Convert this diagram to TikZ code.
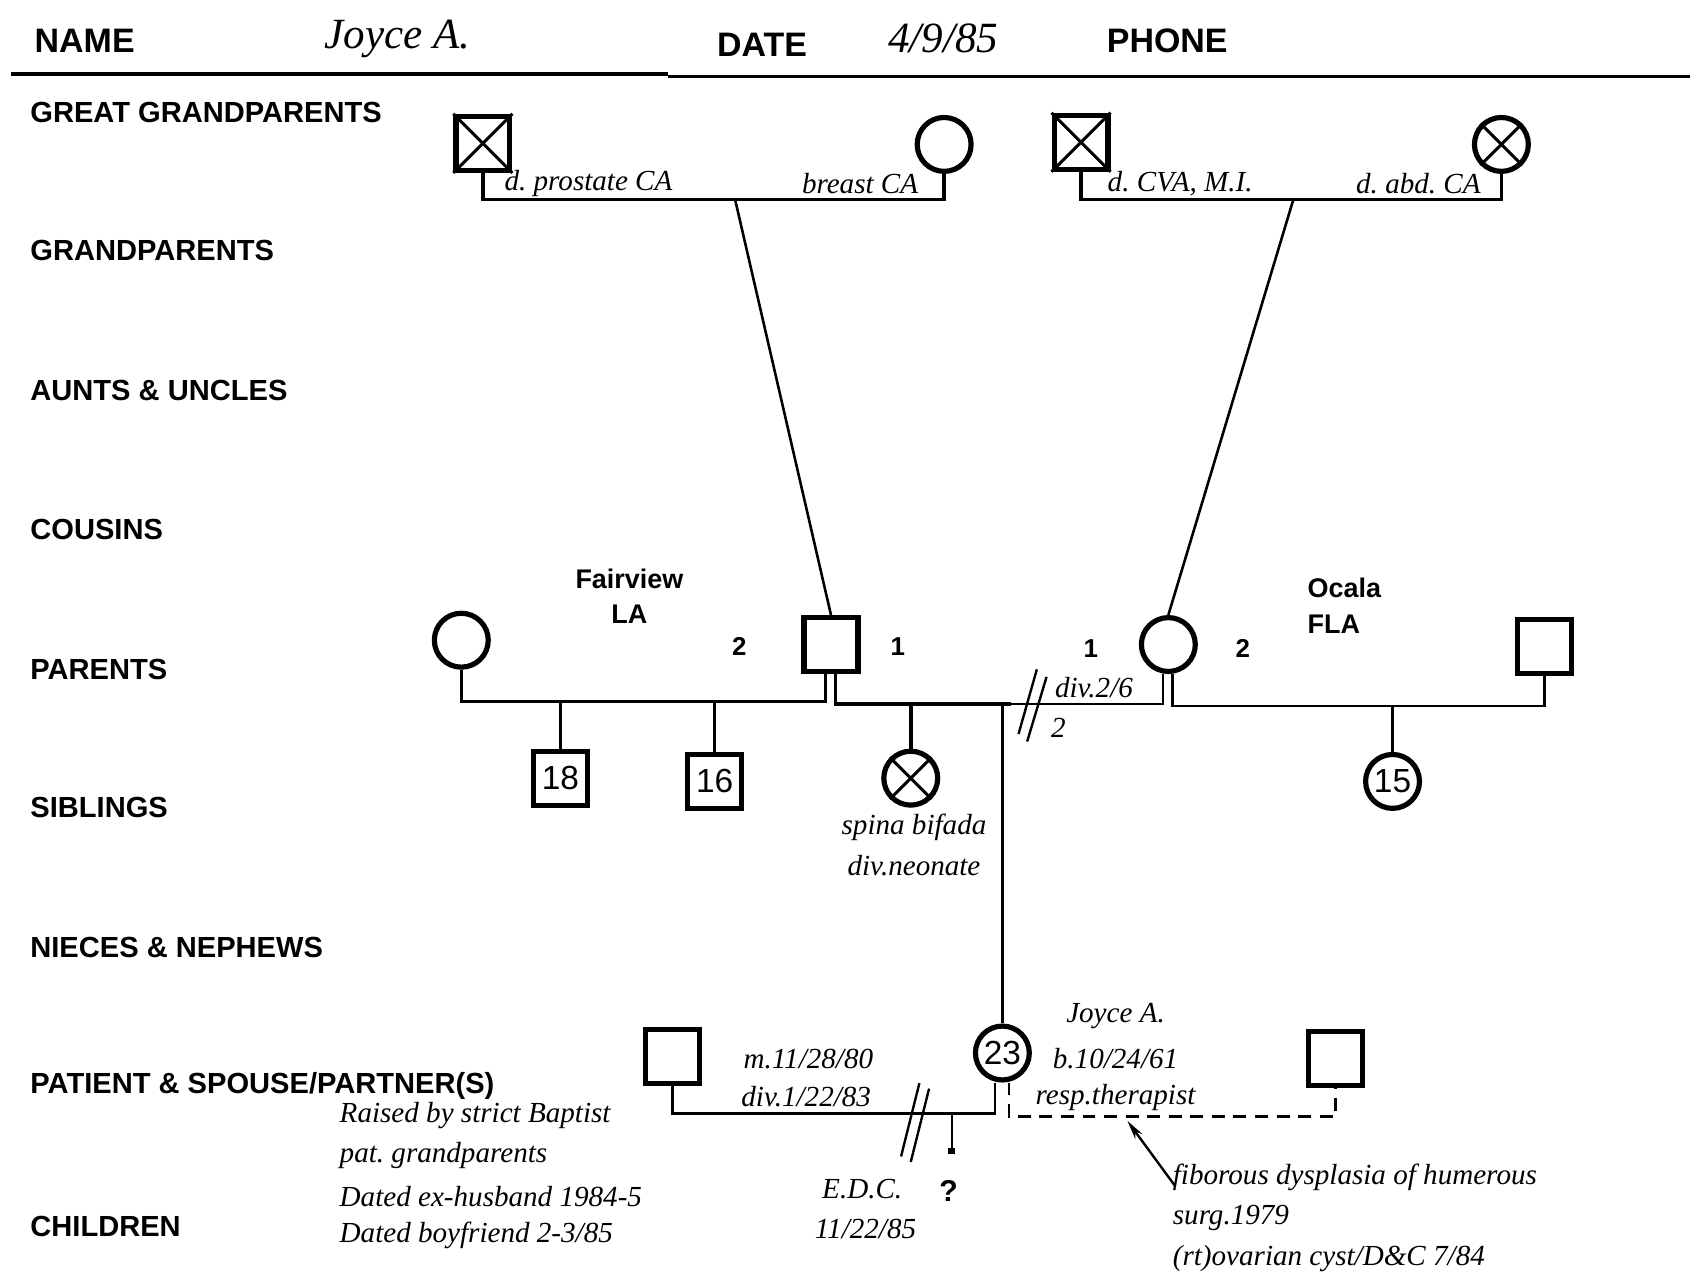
\documentclass[tikz,border=0pt]{standalone}
\usepackage{fontspec}
\setmainfont{Liberation Serif}
\setsansfont{Liberation Sans}
\usetikzlibrary{calc,arrows.meta}
\frenchspacing
\begin{document}
\begin{tikzpicture}[x=1pt,y=-1pt,
  malebox/.style={draw,rectangle,minimum size=50pt,inner sep=0pt,line width=4.8pt},
  femcirc/.style={draw,circle,minimum size=50pt,inner sep=0pt,line width=4.8pt},
  crossln/.style={line width=2.8pt},
  rowlab/.style={font=\fontsize{27}{28}\selectfont\sffamily\bfseries,anchor=west,inner sep=0pt},
  headlab/.style={font=\fontsize{31.5}{33}\selectfont\sffamily\bfseries,inner sep=0pt},
  handbig/.style={font=\fontsize{40}{42}\selectfont\itshape,inner sep=0pt},
  note/.style={font=\fontsize{27}{29}\selectfont\itshape,inner sep=0pt},
  agenum/.style={font=\fontsize{31}{31}\selectfont\sffamily},
  ordnum/.style={font=\fontsize{24}{26}\selectfont\sffamily\bfseries,inner sep=0pt},
  place/.style={font=\fontsize{25}{33}\selectfont\sffamily\bfseries,inner sep=0pt},
  rel/.style={line width=3.3pt},
  relthin/.style={line width=2.2pt},
  descent/.style={line width=2.4pt},
]
\useasboundingbox (0,0) rectangle (1568,1182);
% header
\node[headlab,anchor=west] (nm) at (32,38) {NAME};
\node[handbig] (pn) at (369,36) {Joyce A.};
\node[headlab] (dt) at (707,42) {DATE};
\node[handbig] (pd) at (875,36) {4/9/85};
\node[headlab] (ph) at (1083,38) {PHONE};
\coordinate (rl) at (10,69); \coordinate (rm) at (620,69);
\coordinate (rm2) at (620,71); \coordinate (rr) at (1568,71);
\draw[line width=3.5pt] (rl) -- (rm);
\draw[line width=2pt] (rm2) -- (rr);
% row labels
\node[rowlab] (r1) at (28,104) {GREAT GRANDPARENTS};
\node[rowlab] (r2) at (28,232) {GRANDPARENTS};
\node[rowlab] (r3) at (28,362) {AUNTS \& UNCLES};
\node[rowlab] (r4) at (28,491) {COUSINS};
\node[rowlab] (r5) at (28,621) {PARENTS};
\node[rowlab] (r6) at (28,749) {SIBLINGS};
\node[rowlab] (r7) at (28,879) {NIECES \& NEPHEWS};
\node[rowlab] (r8) at (28,1008) {PATIENT \& SPOUSE/PARTNER(S)};
\node[rowlab] (r9) at (28,1138) {CHILDREN};
% great grandparents
\node[malebox] (ggf1) at (448,133) {};
\draw[crossln] (ggf1.north west) -- (ggf1.south east) (ggf1.north east) -- (ggf1.south west);
\node[femcirc] (ggm1) at (876,134) {};
\node[malebox] (ggf2) at (1003,132) {};
\draw[crossln] (ggf2.north west) -- (ggf2.south east) (ggf2.north east) -- (ggf2.south west);
\node[femcirc] (ggm2) at (1393,134) {};
\draw[crossln] (ggm2.north west) -- (ggm2.south east) (ggm2.north east) -- (ggm2.south west);
\coordinate (yg) at (0,185);
\draw[rel] (ggf1.south) -- (ggf1.south |- yg) -- (ggm1.south |- yg) -- (ggm1.south);
\draw[rel] (ggf2.south) -- (ggf2.south |- yg) -- (ggm2.south |- yg) -- (ggm2.south);
\node[note] (n1) at (546,170) {d. prostate CA};
\node[note] (n2) at (798,170) {breast CA};
\node[note] (n3) at (1095,170) {d. CVA, M.I.};
\node[note] (n4) at (1316,170) {d. abd. CA};
% parents
\node[femcirc] (fw1) at (428,594) {};
\node[malebox] (father) at (771,598) {};
\node[femcirc] (mother) at (1084,598) {};
\node[malebox] (mh2) at (1433,600) {};
\coordinate (u1) at (682,185); \coordinate (u2) at (1200,185);
\draw[descent] (u1) -- (father.north);
\draw[descent] (u2) -- (mother.north);
\node[place,align=center] (fv) at (584,553) {Fairview\\LA};
\node[place,align=left,anchor=west] (oc) at (1213,562) {Ocala\\FLA};
\node[ordnum] (o1) at (686,600) {2};
\node[ordnum] (o2) at (833,600) {1};
\node[ordnum] (o3) at (1012,602) {1};
\node[ordnum] (o4) at (1153,602) {2};
\coordinate (fl) at ($(father.south)+(-5,0)$);
\coordinate (fr) at ($(father.south)+(4,0)$);
\coordinate (ml) at ($(mother.south)+(-5,0)$);
\coordinate (mr) at ($(mother.south)+(4,0)$);
\coordinate (y1) at (0,651); \coordinate (y2) at (0,653); \coordinate (y3) at (0,655);
% father's first marriage
\node[malebox,agenum] (s18) at (520,722) {18};
\node[malebox,agenum] (s16) at (663,725) {16};
\coordinate (br1) at (597,651);
\draw[rel] (fw1.south) |- (br1);
\draw[relthin] (br1) -- (fl |- y1) -- (fl);
\draw[rel] (s18.north) -- (s18.north |- y1);
\draw[rel] (s16.north) -- (s16.north |- y1);
% parents' marriage
\coordinate (br2) at (938,653);
\draw[rel] (fr) |- (br2);
\draw[relthin] (br2) -- (ml |- y2) -- (ml);
\node[femcirc] (sb) at (845,722) {};
\draw[crossln] (sb.north west) -- (sb.south east) (sb.north east) -- (sb.south west);
\draw[rel] (sb.north) -- (sb.north |- y2);
\node[note] (sbt1) at (848,768) {spina bifada};
\node[note] (sbt2) at (848,803) {div.neonate};
\coordinate (d1a) at (945,681); \coordinate (d1b) at (962,621);
\coordinate (d2a) at (953,688); \coordinate (d2b) at (971,628);
\draw[relthin] (d1a) -- (d1b) (d2a) -- (d2b);
\node[note] (dv) at (1015,638) {div.2/6};
\node[note] (dv2) at (982,675) {2};
% mother's second marriage
\draw[relthin] (mr) |- (mh2.south |- y3) -- (mh2.south);
\node[femcirc,agenum] (s15) at (1292,725) {15};
\draw[relthin] (s15.north) -- (s15.north |- y3);
% patient
\node[femcirc,agenum] (pat) at (930,977) {23};
\draw[rel] (pat.north) -- (pat.north |- y2);
\node[note] (pt1) at (1035,943) {Joyce A.};
\node[note] (pt2) at (1035,982) {b.10/24/61};
\node[note] (pt3) at (1035,1018) {resp.therapist};
\coordinate (pl) at ($(pat.south)+(-7,0)$);
\coordinate (pr) at ($(pat.south)+(6,0)$);
\coordinate (y4) at (0,1033); \coordinate (y5) at (0,1036);
\node[malebox] (exh) at (624,980) {};
\node[malebox] (bf) at (1239,982) {};
\coordinate (br3) at (770,1033);
\draw[rel] (exh.south) |- (br3);
\draw[relthin] (br3) -- (pl |- y4) -- (pl);
\node[note] (mm1) at (750,983) {m.11/28/80};
\node[note] (mm2) at (748,1017) {div.1/22/83};
\coordinate (d3a) at (836,1073); \coordinate (d3b) at (853,1005);
\coordinate (d4a) at (845,1078); \coordinate (d4b) at (862,1010);
\draw[relthin] (d3a) -- (d3b) (d4a) -- (d4b);
\node[fill,minimum size=6pt,inner sep=0pt] (ub) at (883,1068) {};
\draw[relthin] (ub |- y4) -- (ub);
\node[font=\fontsize{28}{30}\selectfont\sffamily\bfseries,inner sep=0pt] (q) at (880,1105) {?};
\node[note] (edc1) at (800,1103) {E.D.C.};
\node[note] (edc2) at (803,1140) {11/22/85};
\draw[relthin,dash pattern=on 12pt off 8pt] (pr) |- (bf.south |- y5) -- (bf.south);
% annotation arrow
\coordinate (at) at (1046,1040); \coordinate (af) at (1090,1100);
\draw[relthin,-{Stealth[length=18pt,width=8pt]}] (af) -- (at);
\node[note,anchor=west] (rn1) at (1088,1092) {fiborous dysplasia of humerous};
\node[note,anchor=west] (rn2) at (1088,1130) {surg.1979};
\node[note,anchor=west] (rn3) at (1088,1168) {(rt)ovarian cyst/D\&C 7/84};
% left notes
\node[note,anchor=west] (ln1) at (315,1035) {Raised by strict Baptist};
\node[note,anchor=west] (ln2) at (315,1072) {pat. grandparents};
\node[note,anchor=west] (ln3) at (315,1110) {Dated ex-husband 1984-5};
\node[note,anchor=west] (ln4) at (315,1146) {Dated boyfriend 2-3/85};
\end{tikzpicture}
\end{document}
